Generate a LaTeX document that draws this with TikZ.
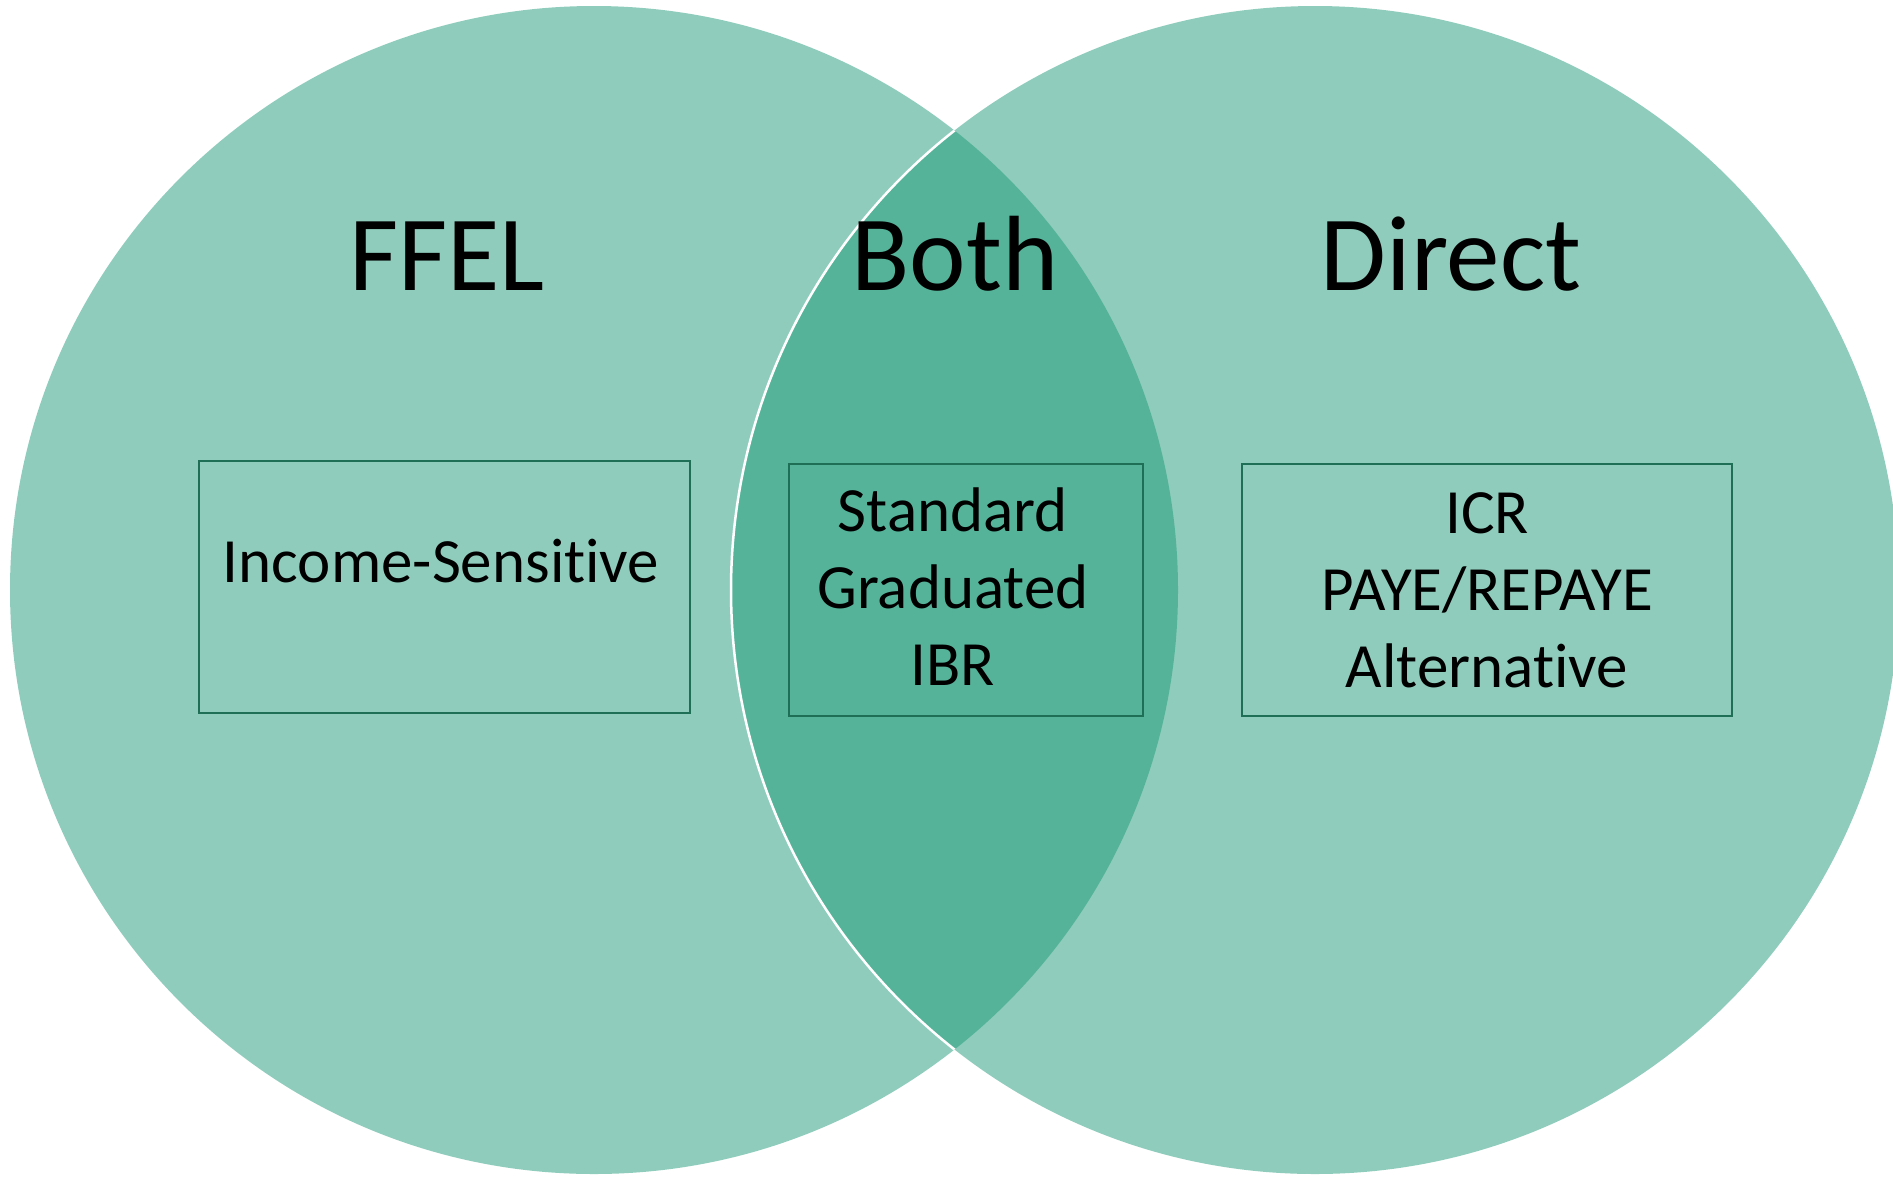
\documentclass[tikz,border=0pt]{standalone}
\usepackage{fontspec}
\setmainfont{Carlito}[Ligatures={NoCommon,NoContextual,NoRequired}]
\usepackage{xcolor}
\usetikzlibrary{positioning}
\definecolor{Mint}{HTML}{8FCCBC}
\definecolor{Sea}{HTML}{55B399}
\definecolor{Pine}{HTML}{1E6F56}

\begin{document}
\begin{tikzpicture}[
  x=1pt,y=-1pt,
  set/.style={fill=Mint,draw=none},
  title/.style={font=\fontsize{107}{107}\selectfont,anchor=base,inner sep=0pt},
  planbox/.style={draw=Pine,line width=2pt,inner sep=0pt},
  plantext/.style={font=\fontsize{63}{77}\selectfont,align=center,anchor=base,inner sep=0pt}
]
  \useasboundingbox (0,0) rectangle (1893,1176);
  % two loan sets
  \fill[set] (594,590) circle[radius=584];
  \fill[set] (1315,590) circle[radius=584];
  \begin{scope}
    \clip (594,590) circle[radius=584];
    \filldraw[fill=Sea,draw=white,line width=2.5pt] (1315,590) circle[radius=584];
  \end{scope}
  % headings
  \node[title] (ffel) at (447,290) {FFEL};
  \node[title] (both) at (955,290) {Both};
  \node[title] (direct) at (1451,290) {Direct};
  % plan boxes
  \node[planbox,minimum width=491,minimum height=252] (ffelbox) at (444.5,587) {};
  \node[planbox,minimum width=354,minimum height=252] (bothbox) at (966,590) {};
  \node[planbox,minimum width=490,minimum height=252] (directbox) at (1487,590) {};
  \node[plantext] (ffeltext) at (441,582) {Income-Sensitive};
  \node[plantext] (bothtext) at (953,685) {Standard\\Graduated\\IBR};
  \node[plantext] (directtext) at (1487,687) {ICR\\PAYE/REPAYE\\Alternative};
\end{tikzpicture}
\end{document}
